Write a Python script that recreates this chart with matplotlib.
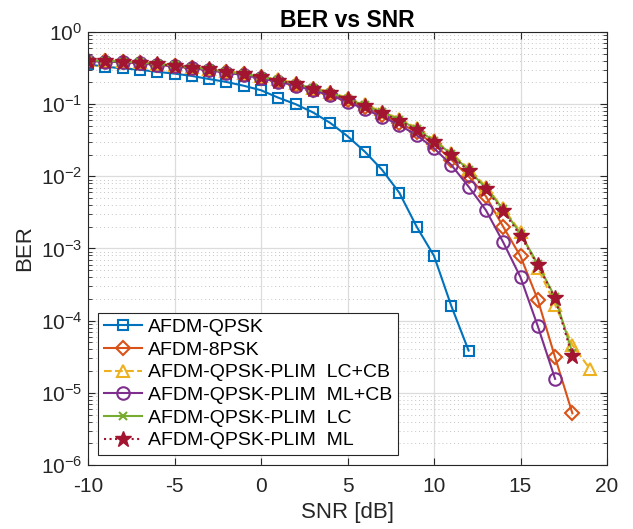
#!/usr/bin/env python3
# BER vs SNR for AFDM / AFDM-PLIM detectors (MATLAB-style semilogy)
import numpy as np
import matplotlib
matplotlib.use("Agg")
import matplotlib.pyplot as plt
from matplotlib.ticker import LogLocator, NullFormatter, MultipleLocator

plt.rcParams["font.family"] = ["Liberation Sans", "DejaVu Sans"]
plt.rcParams["mathtext.fontset"] = "custom"
plt.rcParams["mathtext.rm"] = "Liberation Sans"
plt.rcParams["axes.unicode_minus"] = False

snr_qpsk = list(range(-10, 13))
ber_qpsk = [0.356, 0.33, 0.314, 0.30, 0.28, 0.265, 0.246, 0.223, 0.203, 0.18, 0.156,
            0.123, 0.10, 0.077, 0.055, 0.036, 0.022, 0.0123, 0.0059, 0.002, 0.00079,
            0.00016, 3.85e-5]

snr_8psk = list(range(-10, 19))
ber_8psk = [0.398, 0.392, 0.385, 0.373, 0.353, 0.339, 0.317, 0.300, 0.275, 0.258, 0.232,
            0.208, 0.186, 0.159, 0.137, 0.113, 0.090, 0.071, 0.055, 0.041, 0.028,
            0.017, 0.0100, 0.0053, 0.0020, 7.8e-4, 1.95e-4, 3.1e-5, 5.2e-6]

snr_lccb = list(range(-10, 20))
ber_lccb = [0.41, 0.405, 0.397, 0.385, 0.365, 0.35, 0.328, 0.312, 0.287, 0.27, 0.244,
            0.22, 0.197, 0.17, 0.147, 0.122, 0.099, 0.079, 0.063, 0.047, 0.032,
            0.021, 0.0128, 0.0072, 0.0036, 0.0017, 5.4e-4, 1.66e-4, 4.6e-5, 2.17e-5]

snr_mlcb = list(range(-10, 18))
ber_mlcb = [0.395, 0.39, 0.382, 0.37, 0.35, 0.336, 0.314, 0.297, 0.272, 0.254, 0.228,
            0.204, 0.181, 0.155, 0.132, 0.108, 0.085, 0.067, 0.0515, 0.037, 0.0245,
            0.0144, 0.0072, 0.0034, 0.00122, 4.0e-4, 8.4e-5, 1.56e-5]

snr_lc = list(range(-10, 19))
ber_lc = [0.405, 0.398, 0.39, 0.378, 0.358, 0.344, 0.322, 0.306, 0.281, 0.264, 0.238,
          0.214, 0.192, 0.165, 0.143, 0.119, 0.096, 0.077, 0.061, 0.045, 0.031,
          0.0205, 0.0122, 0.0069, 0.0035, 0.0016, 6.1e-4, 2.1e-4, 3.6e-5]

snr_ml = list(range(-10, 19))
ber_ml = [0.40, 0.395, 0.388, 0.376, 0.356, 0.342, 0.32, 0.304, 0.279, 0.262, 0.236,
          0.212, 0.19, 0.163, 0.141, 0.117, 0.094, 0.075, 0.059, 0.044, 0.030,
          0.0198, 0.0118, 0.0066, 0.0033, 0.0015, 5.9e-4, 2.03e-4, 3.2e-5]

fig = plt.figure(figsize=(6.33, 5.29), dpi=100)
ax = fig.add_axes([88/633, 64/529, (607-88)/633, (465-32)/529])

lw = 1.5
ax.semilogy(snr_qpsk, ber_qpsk, "-s", color="#0072BD", lw=lw, ms=7, mfc="none", mew=1.5,
            label="AFDM-QPSK")
ax.semilogy(snr_8psk, ber_8psk, "-D", color="#D95319", lw=lw, ms=7, mfc="none", mew=1.5,
            label="AFDM-8PSK")
ax.semilogy(snr_lccb, ber_lccb, "--^", color="#EDB120", lw=lw, ms=9, mfc="none", mew=1.5,
            label="AFDM-QPSK-PLIM  LC+CB")
ax.semilogy(snr_mlcb, ber_mlcb, "-o", color="#7E2F8E", lw=lw, ms=9, mfc="none", mew=1.5,
            label="AFDM-QPSK-PLIM  ML+CB")
ax.semilogy(snr_lc, ber_lc, "-x", color="#77AC30", lw=lw, ms=6, mew=1.5,
            label="AFDM-QPSK-PLIM  LC")
ax.semilogy(snr_ml, ber_ml, ":*", color="#A2142F", lw=lw, ms=12, mew=1.0,
            label="AFDM-QPSK-PLIM  ML")

ax.set_xlim(-10, 20)
ax.set_ylim(1e-6, 1)
ax.xaxis.set_major_locator(MultipleLocator(5))
ax.yaxis.set_major_locator(LogLocator(base=10, numticks=10))
ax.yaxis.set_minor_locator(LogLocator(base=10, subs=np.arange(2, 10), numticks=10))
ax.yaxis.set_minor_formatter(NullFormatter())

ax.grid(True, which="major", color="#dcdcdc", lw=0.9, ls="-")
ax.grid(True, which="minor", axis="y", color="#c4c4c4", lw=0.7, ls=(0, (1, 3)))
ax.set_axisbelow(True)
ax.tick_params(which="both", direction="in", top=True, right=True, labelsize=15,
               color="#262626", labelcolor="#262626")
ax.tick_params(which="major", length=5)
ax.tick_params(which="minor", length=3)
ax.tick_params(axis="x", pad=9)
ax.tick_params(axis="y", pad=4)
for s in ax.spines.values():
    s.set_color("#262626")
    s.set_linewidth(0.8)

ax.set_xlabel("SNR [dB]", fontsize=16, color="#262626", labelpad=4)
ax.set_ylabel("BER", fontsize=16, color="#262626", labelpad=4)
ax.set_title("BER vs SNR", fontsize=16.5, fontweight="bold", pad=3)

leg = ax.legend(loc="lower left", fontsize=14, frameon=True, fancybox=False,
                edgecolor="#262626", framealpha=1, handlelength=2.0,
                borderpad=0.3, labelspacing=0.26, handletextpad=0.3,
                borderaxespad=0.5)
leg.get_frame().set_linewidth(0.8)

fig.savefig("out.png", dpi=100)
